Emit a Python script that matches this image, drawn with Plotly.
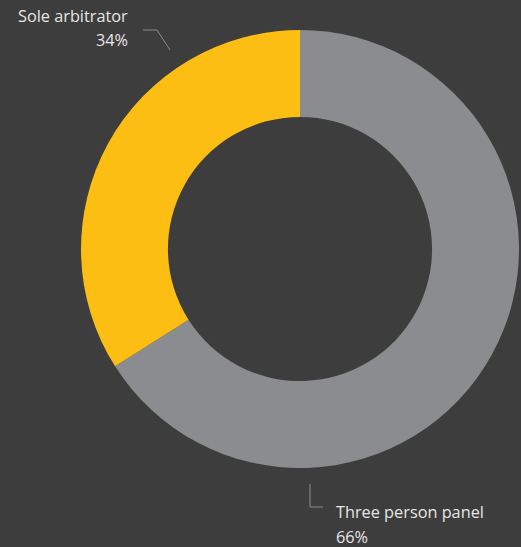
import plotly.graph_objects as go

categories = ["Three person panel", "Sole arbitrator"]
values = [66, 34]
colors = ["#8B8C90", "#FDBE14"]

W, H = 521, 547
BG = "#3D3D3D"
TXT = "#E6E6E6"
LINE = "#8B8C90"

def px(x):
    return x / W

def py(y):
    return 1 - y / H

fig = go.Figure(go.Pie(
    labels=categories,
    values=values,
    marker=dict(colors=colors, line=dict(width=0)),
    hole=0.603,
    sort=False,
    direction="clockwise",
    rotation=0,
    textinfo="none",
    hoverinfo="label+percent",
    showlegend=False,
    domain=dict(x=[px(81), px(519)], y=[py(468), py(30)]),
))

font = dict(family="Open Sans, Noto Sans, sans-serif", size=16.3, color=TXT)

anns = [
    dict(text=categories[1], x=px(130), y=py(16), xanchor="right", yanchor="middle"),
    dict(text=f"{values[1]}%", x=px(130), y=py(40.5), xanchor="right", yanchor="middle"),
    dict(text=categories[0], x=px(334), y=py(512), xanchor="left", yanchor="middle"),
    dict(text=f"{values[0]}%", x=px(334), y=py(536.5), xanchor="left", yanchor="middle"),
]
for a in anns:
    a.update(xref="paper", yref="paper", showarrow=False, font=font)

shapes = [
    dict(type="path", path=f"M {px(143)} {py(30)} L {px(157)} {py(30)} L {px(170)} {py(50)}"),
    dict(type="path", path=f"M {px(310)} {py(484)} L {px(310)} {py(507)} L {px(323)} {py(507)}"),
]
for s in shapes:
    s.update(xref="paper", yref="paper", line=dict(color=LINE, width=1))

fig.update_layout(
    width=W, height=H,
    margin=dict(l=0, r=0, t=0, b=0),
    paper_bgcolor=BG, plot_bgcolor=BG,
    annotations=anns, shapes=shapes,
)

fig.write_html(
    "out.html",
    config={"displayModeBar": False},
    post_script="document.body.style.margin='0';document.body.style.padding='0';document.body.style.background='#3D3D3D';",
)
